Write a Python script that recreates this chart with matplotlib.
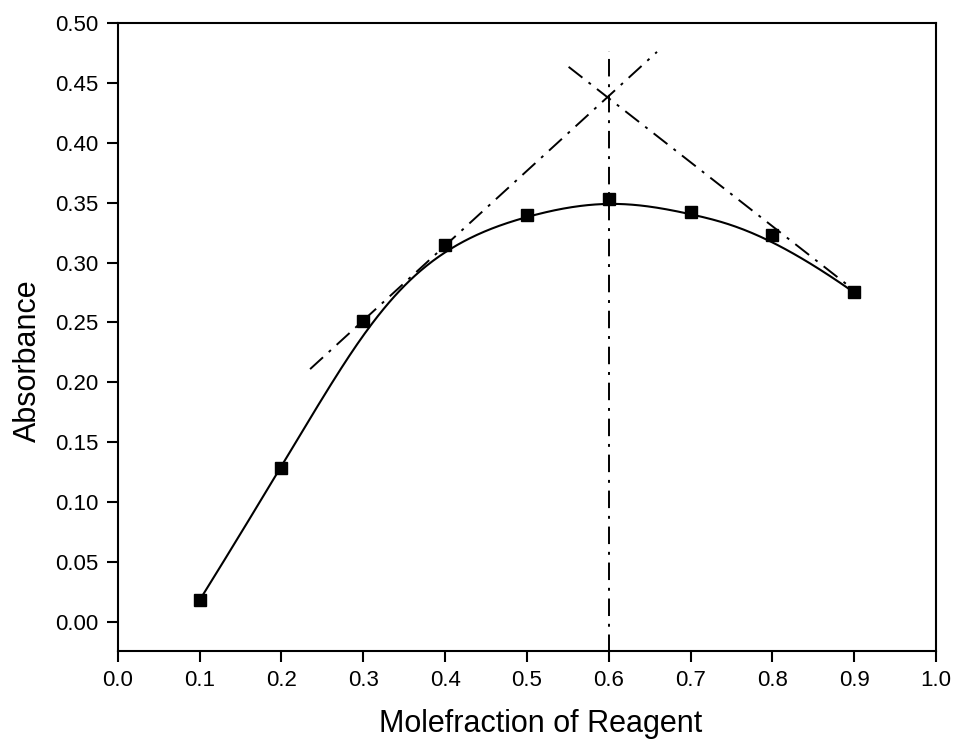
import numpy as np
import matplotlib.pyplot as plt

plt.rcParams['font.family'] = ['Liberation Sans', 'DejaVu Sans']

# Measured absorbance vs mole fraction of reagent
mole_fraction = [0.1, 0.2, 0.3, 0.4, 0.5, 0.6, 0.7, 0.8, 0.9]
absorbance = [0.018, 0.128, 0.251, 0.315, 0.340, 0.353, 0.342, 0.323, 0.275]

# Tangent lines (extrapolated) and the intersection marker at x = 0.6
rise_x = [0.235, 0.659]
rise_y = [0.211, 0.476]
fall_x = [0.551, 0.895]
fall_y = [0.4635, 0.2796]
vline_x = 0.6
vline_top = 0.477

xticks = np.arange(0.0, 1.01, 0.1)
yticks = np.arange(0.0, 0.501, 0.05)


def bspline(px, py, degree=3, num=400):
    # clamped cubic B-spline using the data points as control points
    ctrl = np.column_stack([px, py])
    n = len(ctrl)
    kv = np.concatenate([np.zeros(degree), np.arange(n - degree + 1),
                         np.full(degree, n - degree)]).astype(float)
    ts = np.linspace(0, n - degree, num)
    ts[-1] -= 1e-9
    out = []
    for t in ts:
        k = np.searchsorted(kv, t, side='right') - 1
        d = [ctrl[j + k - degree].copy() for j in range(degree + 1)]
        for r in range(1, degree + 1):
            for j in range(degree, r - 1, -1):
                i = j + k - degree
                a = (t - kv[i]) / (kv[i + degree + 1 - r] - kv[i])
                d[j] = (1 - a) * d[j - 1] + a * d[j]
        out.append(d[degree])
    out = np.array(out)
    return out[:, 0], out[:, 1]


fig = plt.figure(figsize=(9.58, 7.47), dpi=100)
ax = fig.add_axes([0.123, 0.1285, 0.854, 0.8405])

cx, cy = bspline(mole_fraction, absorbance)
ax.plot(cx, cy, color='black', lw=1.5)
ax.plot(mole_fraction, absorbance, 's', color='black', ms=8)

dash = (0, (9, 4, 1.5, 4))
ax.plot(rise_x, rise_y, color='black', lw=1.4, linestyle=dash)
ax.plot(fall_x, fall_y, color='black', lw=1.4, linestyle=dash)
ax.plot([vline_x, vline_x], [-0.025, vline_top], color='black', lw=1.4, linestyle=dash)

ax.set_xlim(0.0, 1.0)
ax.set_ylim(-0.0245, 0.5)
ax.set_xticks(xticks)
ax.set_yticks(yticks)
ax.set_xticklabels([f"{v:.1f}" for v in xticks])
ax.set_yticklabels([f"{v:.2f}" for v in yticks])
ax.tick_params(direction='out', length=8, width=1.5, labelsize=16, pad=6)

for s in ax.spines.values():
    s.set_linewidth(1.5)

ax.set_xlabel("Molefraction of Reagent", fontsize=22)
ax.set_ylabel("Absorbance", fontsize=22)
ax.xaxis.set_label_coords(0.517, -0.092)
ax.yaxis.set_label_coords(-0.092, 0.463)

fig.savefig("out.png", dpi=100)
